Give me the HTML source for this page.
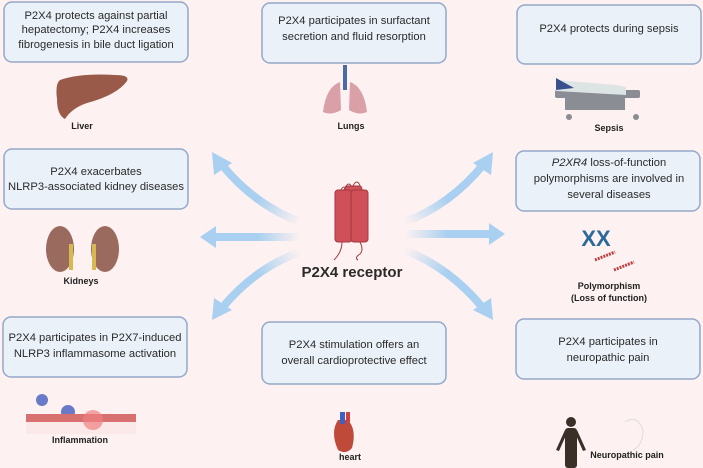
<!DOCTYPE html>
<html><head><meta charset="utf-8"><style>
html,body{margin:0;padding:0;background:#fdf1f1;}
svg{display:block;font-family:"Liberation Sans",sans-serif;}
.bx{fill:#eaf1f9;stroke:#94a8c8;stroke-width:1.5;}
.t{font-size:11.2px;fill:#2a2a2a;text-anchor:middle;}
.l{font-size:9px;font-weight:bold;fill:#222;text-anchor:middle;}
</style></head><body>
<svg width="703" height="468" viewBox="0 0 703 468">
<defs>
<linearGradient id="g1" gradientUnits="userSpaceOnUse" x1="300" y1="222" x2="225" y2="165"><stop offset="0" stop-color="#a9d0f0" stop-opacity="0"/><stop offset="0.5" stop-color="#a9d0f0"/><stop offset="1" stop-color="#a9d0f0"/></linearGradient>
<linearGradient id="g2" gradientUnits="userSpaceOnUse" x1="300" y1="0" x2="215" y2="0"><stop offset="0" stop-color="#a9d0f0" stop-opacity="0"/><stop offset="0.5" stop-color="#a9d0f0"/><stop offset="1" stop-color="#a9d0f0"/></linearGradient>
<linearGradient id="g3" gradientUnits="userSpaceOnUse" x1="300" y1="252" x2="225" y2="308"><stop offset="0" stop-color="#a9d0f0" stop-opacity="0"/><stop offset="0.5" stop-color="#a9d0f0"/><stop offset="1" stop-color="#a9d0f0"/></linearGradient>
<linearGradient id="g4" gradientUnits="userSpaceOnUse" x1="405" y1="222" x2="480" y2="165"><stop offset="0" stop-color="#a9d0f0" stop-opacity="0"/><stop offset="0.5" stop-color="#a9d0f0"/><stop offset="1" stop-color="#a9d0f0"/></linearGradient>
<linearGradient id="g5" gradientUnits="userSpaceOnUse" x1="405" y1="0" x2="490" y2="0"><stop offset="0" stop-color="#a9d0f0" stop-opacity="0"/><stop offset="0.5" stop-color="#a9d0f0"/><stop offset="1" stop-color="#a9d0f0"/></linearGradient>
<linearGradient id="g6" gradientUnits="userSpaceOnUse" x1="405" y1="250" x2="480" y2="308"><stop offset="0" stop-color="#a9d0f0" stop-opacity="0"/><stop offset="0.5" stop-color="#a9d0f0"/><stop offset="1" stop-color="#a9d0f0"/></linearGradient>
</defs>
<rect width="703" height="468" fill="#fdf1f1"/>
<!-- boxes -->
<rect class="bx" x="4" y="2" width="184" height="60" rx="8"/>
<text class="t" x="96" y="19">P2X4 protects against partial</text>
<text class="t" x="96" y="33">hepatectomy; P2X4 increases</text>
<text class="t" x="96" y="48">fibrogenesis in bile duct ligation</text>
<rect class="bx" x="262" y="3" width="184" height="60" rx="8"/>
<text class="t" x="354" y="24">P2X4 participates in surfactant</text>
<text class="t" x="354" y="40">secretion and fluid resorption</text>
<rect class="bx" x="517" y="5" width="184" height="59" rx="8"/>
<text class="t" x="609" y="32">P2X4 protects during sepsis</text>
<rect class="bx" x="4" y="149" width="184" height="60" rx="8"/>
<text class="t" x="96" y="175">P2X4 exacerbates</text>
<text class="t" x="96" y="190">NLRP3-associated kidney diseases</text>
<rect class="bx" x="516" y="151" width="184" height="60" rx="8"/>
<text class="t" x="609" y="166"><tspan font-style="italic">P2XR4</tspan> loss-of-function</text>
<text class="t" x="609" y="182">polymorphisms are involved in</text>
<text class="t" x="609" y="198">several diseases</text>
<rect class="bx" x="3" y="317" width="184" height="60" rx="8"/>
<text class="t" x="95" y="341">P2X4 participates in P2X7-induced</text>
<text class="t" x="95" y="357">NLRP3 inflammasome activation</text>
<rect class="bx" x="262" y="322" width="184" height="62" rx="8"/>
<text class="t" x="354" y="348">P2X4 stimulation offers an</text>
<text class="t" x="354" y="364">overall cardioprotective effect</text>
<rect class="bx" x="516" y="319" width="184" height="60" rx="8"/>
<text class="t" x="608" y="345">P2X4 participates in</text>
<text class="t" x="608" y="361">neuropathic pain</text>
<!-- arrows -->
<g fill="none" stroke-width="8" stroke-linecap="butt">
<path d="M300 222 Q255 205 222 165" stroke="url(#g1)"/>
<path d="M300 237 L215 237" stroke="url(#g2)"/>
<path d="M300 252 Q255 268 222 308" stroke="url(#g3)"/>
<path d="M405 222 Q450 205 483 165" stroke="url(#g4)"/>
<path d="M405 234 L490 234" stroke="url(#g5)"/>
<path d="M405 250 Q450 268 483 308" stroke="url(#g6)"/>
</g>
<g fill="#a9d0f0">
<polygon points="212,152 232,163 214,175"/>
<polygon points="200,237 216,226 216,248"/>
<polygon points="212,320 214,298 232,310"/>
<polygon points="493,152 491,175 473,163"/>
<polygon points="505,234 489,223 489,245"/>
<polygon points="493,320 473,310 491,298"/>
</g>
<!-- receptor -->
<g stroke="#a03a3e" stroke-width="1" fill="#cf5058">
<path d="M344 190 q5 -12 9 0 M352 188 q5 -12 9 0 M340 192 q4 -10 8 0" fill="none"/>
<rect x="345" y="186" width="17" height="52" rx="3"/>
<rect x="335" y="190" width="17" height="52" rx="3"/>
<rect x="351" y="190" width="17" height="52" rx="3"/>
<path d="M342 242 q0 10 -8 18 M360 242 q4 8 0 12 q-6 4 -2 6" fill="none"/>
</g>
<text x="352" y="277" font-size="15" font-weight="bold" fill="#2a2a2a" text-anchor="middle">P2X4 receptor</text>
<!-- liver -->
<path d="M60 80 q20 -7 55 -5 q15 0 12 6 q-10 14 -40 22 q-15 5 -22 16 q-8 -4 -8 -20 q-2 -15 3 -19z" fill="#9a5a4a"/>
<text class="l" x="82" y="129">Liver</text>
<!-- lungs -->
<rect x="343" y="65" width="4" height="25" fill="#4a6aa8"/>
<path d="M340 82 q-14 5 -17 30 q8 4 18 -2z M350 82 q14 5 17 30 q-8 4 -18 -2z" fill="#d9a0a8"/>
<text class="l" x="351" y="129">Lungs</text>
<!-- bed -->
<g fill="#8a8d94">
<rect x="555" y="90" width="85" height="8" rx="2"/>
<rect x="565" y="98" width="60" height="12"/>
<circle cx="569" cy="117" r="3"/><circle cx="636" cy="117" r="3"/>
</g>
<path d="M556 80 l60 5 l10 2 l0 8 l-70 -4z" fill="#dce4e4"/>
<path d="M556 78 l18 10 l-18 2z" fill="#3a4f8f"/>
<text class="l" x="609" y="131">Sepsis</text>
<!-- kidneys -->
<ellipse cx="60" cy="249" rx="14" ry="23" fill="#9a6a5e"/>
<ellipse cx="105" cy="249" rx="14" ry="23" fill="#9a6a5e"/>
<rect x="69" y="244" width="4" height="26" fill="#d8b850"/><rect x="92" y="244" width="4" height="26" fill="#d8b850"/>
<text class="l" x="81" y="284">Kidneys</text>
<!-- chromosomes / DNA -->
<text x="596" y="246" font-size="22" font-weight="bold" fill="#2a6a9a" text-anchor="middle">XX</text>
<path d="M595 260 l20 -8 M614 270 l20 -8" stroke="#c04040" stroke-width="3" stroke-dasharray="2 1"/>
<text class="l" x="609" y="289">Polymorphism</text>
<text class="l" x="609" y="301">(Loss of function)</text>
<!-- inflammation -->
<circle cx="42" cy="400" r="6" fill="#6a7ac8"/><circle cx="68" cy="412" r="7" fill="#6a7ac8"/>
<rect x="26" y="414" width="110" height="8" fill="#d87070"/>
<rect x="26" y="422" width="110" height="12" fill="#fbe8e8"/>
<circle cx="93" cy="420" r="10" fill="#f08080" opacity="0.7"/>
<text class="l" x="80" y="443">Inflammation</text>
<!-- heart -->
<path d="M338 420 q-8 12 0 30 q8 5 14 -2 q5 -18 -4 -28z" fill="#c04a3a"/>
<rect x="340" y="412" width="5" height="12" fill="#4060c0"/><rect x="346" y="412" width="4" height="10" fill="#d04040"/>
<text class="l" x="350" y="460">heart</text>
<!-- neuropathic -->
<g fill="#3a3028">
<circle cx="571" cy="422" r="5"/>
<rect x="565" y="428" width="12" height="40" rx="3"/>
<path d="M565 430 l-9 20 l3 1 l8 -18z M577 430 l9 20 l-3 1 l-8 -18z"/>
</g>
<path d="M625 422 q12 -8 18 8 q0 15 -10 20" stroke="#ddd" fill="none"/>
<text class="l" x="627" y="458">Neuropathic pain</text>
</svg>
</body></html>
